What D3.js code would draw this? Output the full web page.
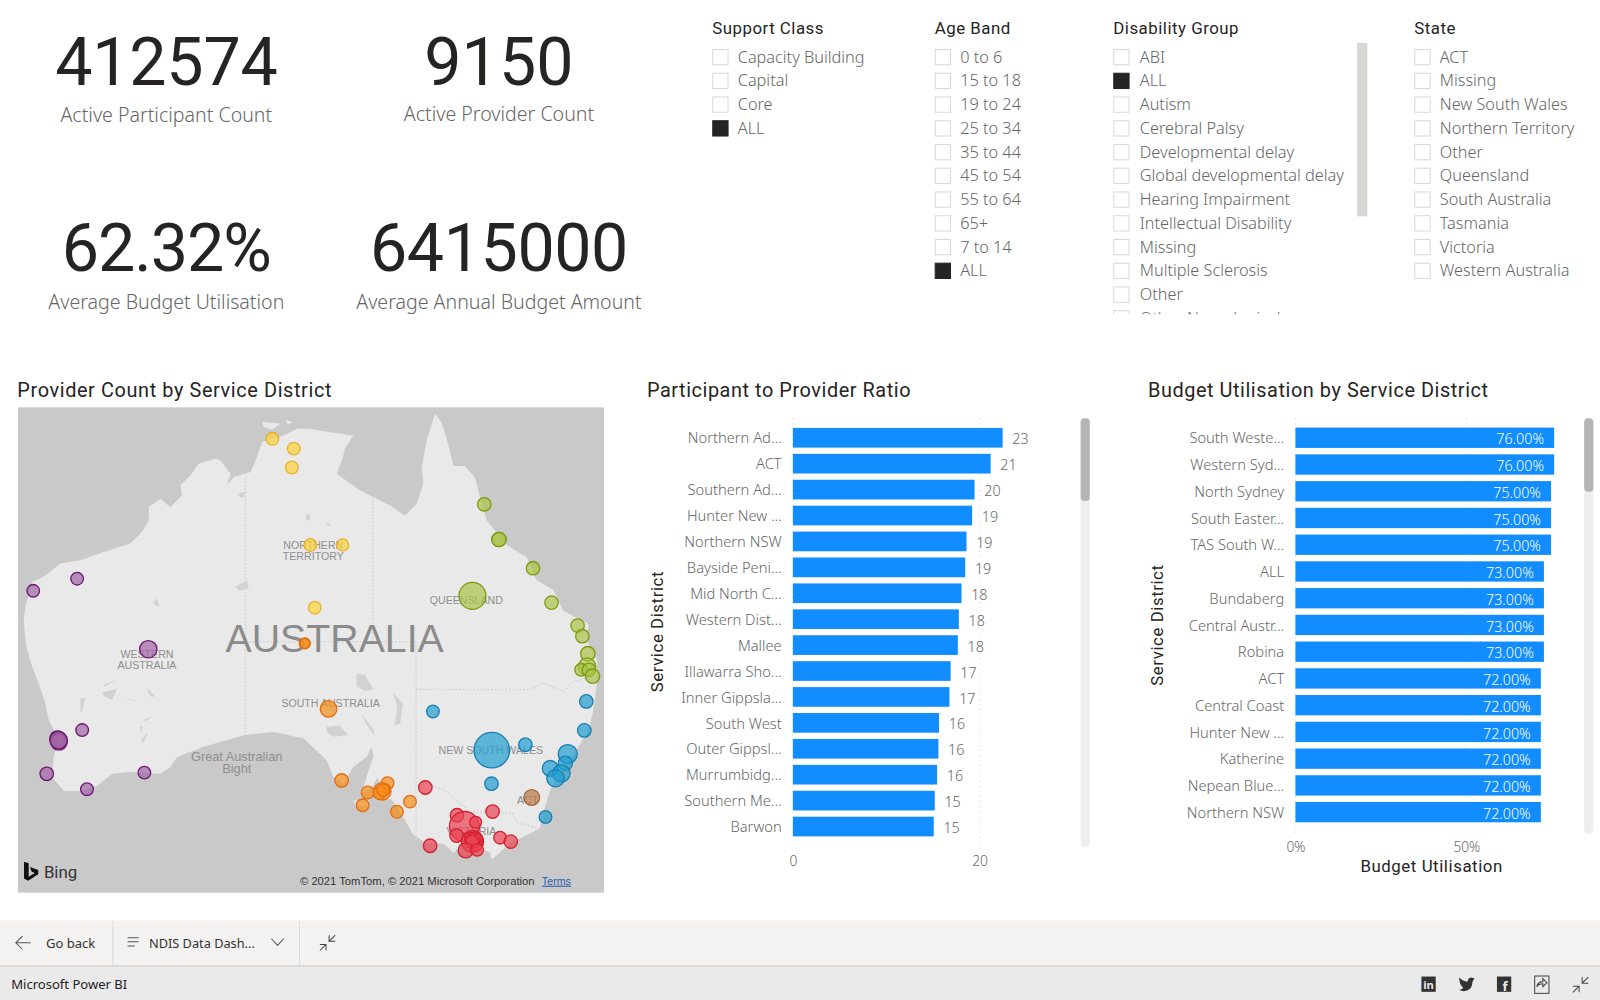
<!DOCTYPE html>
<html><head><meta charset="utf-8">
<script src="https://cdn.jsdelivr.net/npm/d3@7"></script>
<style>
html,body{margin:0;padding:0;background:#fff;overflow:hidden}
svg{display:block}
.din{font-family:Roboto,sans-serif}
.seg{font-family:"Noto Sans",sans-serif}
.map{font-family:"Liberation Sans",sans-serif}
</style></head><body><svg id="c" width="1600" height="1000" viewBox="0 0 1568 980"></svg>
<script>
// ---------- KPI cards
const kpiValues=["412574","9150","62.32%","6415000"];
const kpiLabels=["Active Participant Count","Active Provider Count","Average Budget Utilisation","Average Annual Budget Amount"];
// ---------- slicers
const supportClass=["Capacity Building","Capital","Core","ALL"];
const ageBand=["0 to 6","15 to 18","19 to 24","25 to 34","35 to 44","45 to 54","55 to 64","65+","7 to 14","ALL"];
const disabilityGroup=["ABI","ALL","Autism","Cerebral Palsy","Developmental delay","Global developmental delay","Hearing Impairment","Intellectual Disability","Missing","Multiple Sclerosis","Other","Other Neurological"];
const stateNames=["ACT","Missing","New South Wales","Northern Territory","Other","Queensland","South Australia","Tasmania","Victoria","Western Australia"];
// ---------- participant to provider ratio
const ratioDistricts=["Northern Ad...","ACT","Southern Ad...","Hunter New ...","Northern NSW","Bayside Peni...","Mid North C...","Western Dist...","Mallee","Illawarra Sho...","Inner Gippsla...","South West","Outer Gippsl...","Murrumbidg...","Southern Me...","Barwon"];
const ratioValues=[22.47,21.18,19.46,19.2,18.6,18.46,18.06,17.78,17.67,16.9,16.77,15.66,15.59,15.45,15.2,15.09];
const ratioLabels=["23","21","20","19","19","19","18","18","18","17","17","16","16","16","15","15"];
// ---------- budget utilisation
const budgetDistricts=["South Weste...","Western Syd...","North Sydney","South Easter...","TAS South W...","ALL","Bundaberg","Central Austr...","Robina","ACT","Central Coast","Hunter New ...","Katherine","Nepean Blue...","Northern NSW"];
const budgetValues=[75.7,75.7,74.8,74.8,74.8,72.7,72.7,72.7,72.7,71.8,71.8,71.8,71.8,71.8,71.8];
const budgetLabels=["76.00%","76.00%","75.00%","75.00%","75.00%","73.00%","73.00%","73.00%","73.00%","72.00%","72.00%","72.00%","72.00%","72.00%","72.00%"];
// ---------- provider count by district, [lon, lat, providers]
const ntPoints=[[130.82,-12.52,100],[132.34,-13.2,100],[132.2,-14.5,100],[133.52,-19.76,100],[135.82,-19.76,88],[133.83,-23.9,100]];
const wa=[[113.82,-22.8,100],[116.94,-22.0,100],[122.0,-26.57,189],[117.3,-31.59,100],[115.55,-32.1,150],[115.65,-32.3,170],[115.62,-32.2,189],[114.78,-34.2,114],[121.72,-34.13,100],[117.64,-35.1,100]];
const qld=[[145.88,-17.02,114],[146.92,-19.4,128],[146.92,-19.4,128],[149.34,-21.31,114],[145.04,-23.13,455],[150.66,-23.57,114],[152.51,-25.06,114],[152.85,-25.74,114],[153.24,-26.85,128],[153.19,-27.67,189],[152.76,-27.87,100],[153.32,-27.87,114],[153.58,-28.27,128]];
const nsw=[[142.23,-30.46,100],[153.13,-29.84,114],[152.99,-31.61,114],[146.41,-32.8,790],[148.8,-32.47,114],[151.81,-33.03,226],[151.64,-33.58,128],[150.57,-33.88,157],[151.36,-34.17,189],[150.94,-34.46,189],[146.39,-34.78,114],[150.23,-36.7,100]];
const act=[[149.25,-35.58,157]];
const sa=[[133.12,-26.2,76],[133.12,-26.2,60],[134.81,-30.3,171],[135.74,-34.59,114],[137.59,-35.29,100],[139.0,-34.75,100],[138.63,-35.23,189],[138.86,-35.1,60],[138.43,-35.33,100],[138.7,-35.15,100],[137.23,-36.03,100],[140.6,-35.82,100],[139.67,-36.4,100]];
const vic=[[141.69,-35.0,114],[146.47,-36.39,114],[143.94,-36.6,114],[144.47,-37.24,565],[145.26,-37.0,88],[143.91,-37.75,114],[145.04,-38.08,307],[145.18,-37.99,157],[144.9,-37.9,88],[145.32,-38.27,88],[145.1,-38.0,120],[145.0,-38.1,110],[144.56,-38.58,143],[145.37,-38.55,100],[142.03,-38.32,114],[147.0,-37.87,100],[147.76,-38.09,114]];
// ---------- base map geography, [lon, lat]
const coast=[[142.38,-10.8],[141.78,-12.63],[141.43,-14.5],[141.55,-15.6],[141.07,-17],[140.24,-17.78],[139.18,-17.1],[137.04,-16.07],[135.39,-14.93],[135.86,-13.7],[135.98,-13.2],[136.57,-12.3],[134.91,-12.07],[133.49,-11.83],[132.6,-11.8],[131.63,-12.3],[130.09,-12.75],[129.54,-14.24],[129.26,-14.81],[128.07,-15.16],[127.6,-15.73],[127.84,-14.93],[127.12,-14],[126.77,-13.9],[125.58,-14.24],[124.99,-15.04],[124.28,-15.73],[124.4,-16.42],[123.57,-17.22],[122.86,-16.65],[122.03,-17.22],[122.03,-18.11],[121.56,-18.89],[120.73,-19.67],[118.83,-20.23],[117.17,-20.78],[115.75,-21],[114.57,-21.88],[113.74,-22.2],[113.26,-23.9],[113.14,-24.7],[113.3,-26.3],[113.74,-27.67],[114.2,-28.7],[114.68,-29.95],[114.92,-30.97],[115.63,-32.2],[115.28,-33.2],[115.16,-34.4],[116,-35.2],[117.17,-35.2],[118.36,-34.9],[119.42,-34.2],[120.73,-34.1],[122.86,-34.2],[123.57,-33.8],[124.04,-33.2],[125.94,-32.6],[128.78,-31.9],[130.92,-31.7],[133.05,-32.1],[134.67,-33.4],[135.15,-34.4],[135.86,-34.8],[136.57,-33.8],[137.52,-33.2],[137.87,-32.6],[137.99,-33.2],[137.52,-34.35],[137.2,-35.3],[137.9,-35],[138.3,-34.4],[138.5,-35],[138.2,-35.6],[139.3,-35.7],[139.89,-36.4],[140.84,-37.7],[141.78,-38.2],[142.97,-38.2],[143.68,-38.7],[144.8,-38.1],[145.2,-38.3],[146.29,-38.7],[146.4,-39.1],[147.7,-38.2],[149.84,-37.35],[150.08,-36.4],[150.55,-35.2],[151.02,-34.3],[152.2,-33.1],[153.28,-31.6],[153.63,-30.4],[153.87,-28.8],[153.9,-27.3],[153.16,-26],[153.28,-24.95],[151.5,-24.1],[150.79,-22.75],[149.6,-22.1],[148.9,-20.6],[147.47,-19.76],[146.05,-18.1],[145.58,-16.55],[145.22,-15.2],[144.5,-14.4],[143.68,-14.4],[143.32,-12.9],[142.85,-11.4]];
const islands=[[[130.09,-11.35],[131.39,-11.45],[130.8,-11.9],[130.2,-11.7]],[[131.75,-11.2],[132.3,-11.4],[131.9,-11.5]],[[136.6,-35.75],[137.7,-35.7],[137.6,-36.1],[136.7,-36.05]]];
const ocean=[[[136.3,-13.8],[136.8,-13.9],[136.6,-14.4]]];
const lakes=[[[136.8,-28.1],[137.4,-28.2],[138,-29.1],[137.4,-29.2],[136.8,-28.9]],[[139.4,-29.3],[140.1,-30],[139.9,-31.2],[139.5,-31.3],[139.7,-30.2]],[[137.16,-30.6],[138,-31.6],[138.1,-32],[137.4,-31.1]],[[134.67,-31.4],[135.6,-31.3],[136.2,-31.9],[135.1,-32],[134.67,-31.7]],
[[118.78,-28.81],[119.78,-28.5],[118.88,-28.91]],[[118.71,-29.28],[119.78,-29.07],[119.42,-29.74],[118.88,-29.53]],[[120.25,-29.57],[121.44,-29.84],[120.73,-29.73]],[[121.91,-29.01],[122.5,-29.53],[122.15,-29.53]],[[117.17,-29.63],[117.53,-29.63],[117.29,-30.46],[117.17,-30.46]],[[121.67,-30.97],[122.27,-30.76],[121.79,-31.07]],[[121.39,-31.41],[121.63,-31.33],[121.49,-31.67]],[[121.44,-32.17],[121.96,-31.77],[121.67,-32.37]],[[128.31,-16.3],[128.9,-16.19],[128.67,-16.65]],[[128.19,-22.54],[129.02,-22.1],[129.14,-22.65],[128.43,-22.8]],[[122.34,-23.53],[122.62,-23.3],[122.81,-23.85],[122.5,-23.75]],[[133.17,-17.77],[133.52,-17.66],[133.47,-18.1],[133.24,-18.1]],[[134.6,-18.35],[135,-18.3],[134.85,-18.5]]];
const borders=[[[128.9,-15.2],[128.9,-31.9]],[[128.9,-26.1],[141.03,-26.1]],[[137.94,-16.5],[137.94,-26.1]],[[141.03,-26.1],[141.03,-38]],[[141.03,-29.1],[149.13,-29.1],[150.08,-28.7],[151.5,-29.2],[152.2,-28.6],[153.75,-28.3]],[[141.03,-34.4],[142,-34.8],[143.2,-35.25],[144.86,-36.4],[147.9,-36.5],[148.2,-37],[149.96,-37.4]]];

const palette={wa:["#a163a5","#6d1a74"],nt:["#fdd235","#e8b030"],qld:["#aac548","#7f9a12"],nsw:["#209cce","#1a7fb5"],act:["#b97845","#a0693e"],sa:["#f78e18","#e26e13"],vic:["#ea4353","#d3212f"]};

const svg=d3.select("#c");
const textColor="#666";
const darkText="#252423";

function t(sel,x,y,s,cls,size,fill,anchor){
  return sel.append("text").attr("x",x).attr("y",y).text(s).attr("class",cls)
    .attr("font-size",size).attr("fill",fill).attr("text-anchor",anchor||"start");
}
// ---------- KPI
const kpiX=[163,489,163,489], kpiY=[83,83,266,266], kpiLabY=[120,119,303,303], kpiSp=[-.2,.1,-1,-.4];
kpiValues.forEach((v,i)=>{
  t(svg,kpiX[i],kpiY[i],v,"din",65,darkText,"middle").attr("letter-spacing",kpiSp[i]);
  t(svg,kpiX[i],kpiLabY[i],kpiLabels[i],"seg",19.2,textColor,"middle").attr("font-weight",300);
});
// ---------- slicers
const defs=svg.append("defs");
defs.append("clipPath").attr("id","slicerClip").append("rect").attr("x",1080).attr("y",40).attr("width",250).attr("height",268);
defs.append("clipPath").attr("id","mapClip").append("rect").attr("x",17.5).attr("y",399).attr("width",574.5).attr("height",476);
const rowY=d3.scaleLinear().domain([0,1]).range([56,79.27]);
function slicer(title,items,x,labelDx,clip){
  t(svg,x,33.5,title,"din",16.5,darkText).attr("letter-spacing",.5);
  const g=svg.append("g"); if(clip) g.attr("clip-path","url(#slicerClip)");
  items.forEach((d,i)=>{
    const y=rowY(i);
    const on=d==="ALL";
    g.append("rect").attr("x",x+.5).attr("y",y-7.5).attr("width",15).attr("height",15)
      .attr("fill",on?"#252423":"#fff").attr("stroke",on?"#252423":"#d8d8d8");
    t(g,x+labelDx,y+5.5,d,"seg",15.95,textColor).attr("font-weight",300);
  });
}
slicer("Support Class",supportClass,698,25);
slicer("Age Band",ageBand,916,25);
slicer("Disability Group",disabilityGroup,1091,26,true);
slicer("State",stateNames,1386,25);
svg.append("rect").attr("x",1330).attr("y",42).attr("width",10).attr("height",170).attr("fill","#d6d6d4");

// ---------- map
const proj=d3.geoMercator().scale(790).translate([-1536.8,256]);
const lineOf=d3.line().x(p=>proj(p)[0]).y(p=>proj(p)[1]);
const closed=d3.line().x(p=>proj(p)[0]).y(p=>proj(p)[1]).curve(d3.curveLinearClosed);
t(svg,17,389,"Provider Count by Service District","din",19.5,darkText).attr("letter-spacing",.6);
const m=svg.append("g").attr("clip-path","url(#mapClip)");
m.append("rect").attr("x",17).attr("y",399).attr("width",575).attr("height",476).attr("fill","#c9c9c9");
m.append("path").attr("d",closed(coast)).attr("fill","#e9e9e9");
m.selectAll(".isl").data(islands).join("path").attr("d",closed).attr("fill","#e9e9e9");
m.selectAll(".oc").data(ocean).join("path").attr("d",closed).attr("fill","#c9c9c9");
m.selectAll(".lk").data(lakes).join("path").attr("d",closed).attr("fill","#d2d2d2");
m.selectAll(".bd").data(borders).join("path").attr("d",lineOf).attr("fill","none").attr("stroke","#d2d2d2").attr("stroke-width",1.5).attr("stroke-dasharray","1.5 2");
const ml=[["AUSTRALIA",328,639,38.5],["NORTHERN",307,538,10.4],["TERRITORY",307,549,10.4],["QUEENSLAND",457,592,10.4],["WESTERN",144,645,10.4],["AUSTRALIA",144,656,10.4],["SOUTH AUSTRALIA",324,693,10.4],["NEW SOUTH WALES",481,739,10.4],["ACT",517,788,10.4],["VICTORIA",462,818,10.4],["Great Australian",232,746,12.5],["Bight",232,758,12.5]];
ml.forEach(d=>t(m,d[1],d[2],d[0],"map",d[3],d[3]>20?"#8b8b8b":"#8e8e8e","middle"));
const r=d3.scaleSqrt().domain([0,800]).range([0,17.5]);
[[wa,"wa"],[ntPoints,"nt"],[qld,"qld"],[nsw,"nsw"],[act,"act"],[sa,"sa"],[vic,"vic"]].forEach(([pts,k])=>{
  m.append("g").selectAll("circle").data(pts).join("circle")
    .attr("cx",d=>proj(d)[0]).attr("cy",d=>proj(d)[1]).attr("r",d=>r(d[2]))
    .attr("fill",palette[k][0]).attr("fill-opacity",.7).attr("stroke",palette[k][1]).attr("stroke-width",1.3);
});
// bing logo + credit
m.append("path").attr("d","M23.5 844.5 l4.6 1.6 v13 l6 -3.5 l-3 -1.4 l-1.8 -4.6 l8.2 3 v4.2 l-10 6.4 l-4 -2.2 z").attr("fill","#111");
t(m,43,860.6,"Bing","din",16.5,"#333");
t(m,294,867,"© 2021 TomTom, © 2021 Microsoft Corporation","map",11,"#333");
t(m,531,867,"Terms","map",10.5,"#2a5db0").attr("text-decoration","underline");

// ---------- bar charts
function barChart(o){
  const x=d3.scaleLinear().domain([0,o.tick]).range([o.x0,o.x1]);
  const y=d3.scaleBand().domain(o.cats).range(o.yr).paddingInner(.24).paddingOuter(.12);
  t(svg,o.titleX,389,o.title,"din",19.5,darkText).attr("letter-spacing",.55);
  // grid
  svg.append("g").selectAll("line").data([0,o.tick]).join("line")
    .attr("x1",d=>x(d)).attr("x2",d=>x(d)).attr("y1",o.gridTop).attr("y2",o.gridBot)
    .attr("stroke","#d8d8d8").attr("stroke-dasharray","1 4");
  // x axis
  const ax=svg.append("g").attr("transform",`translate(0,${o.axisY})`).call(d3.axisBottom(x).tickValues([0,o.tick]).tickSize(0).tickFormat(o.fmt));
  ax.select(".domain").remove();
  ax.selectAll("text").attr("class","seg").attr("font-size",13.5).attr("fill",textColor).attr("dy",0).attr("y",0).attr("font-family",null).attr("font-weight",300);
  // y axis
  const ay=svg.append("g").attr("transform",`translate(${o.x0-11},1)`).call(d3.axisLeft(y).tickSize(0).tickPadding(0));
  ay.select(".domain").remove();
  ay.selectAll("text").attr("class","seg").attr("font-size",14.4).attr("fill",textColor).attr("font-family",null).attr("font-weight",300);
  // bars
  svg.append("g").selectAll("rect").data(o.cats).join("rect")
    .attr("x",x(0)).attr("y",d=>y(d)).attr("height",y.bandwidth())
    .attr("width",(d,i)=>x(o.vals[i])-x(0)).attr("fill","#118dff");
  // labels
  svg.append("g").selectAll("text").data(o.cats).join("text")
    .attr("x",(d,i)=>x(o.vals[i])+o.labDx).attr("y",d=>y(d)+y.bandwidth()/2+6.5)
    .attr("text-anchor",o.labAnchor).attr("class","seg").attr("font-size",14).attr("font-weight",300)
    .attr("fill",o.labFill).text((d,i)=>o.labels[i]);
  // axis titles
  svg.append("text").attr("transform",`translate(${o.ytX},${o.ytY}) rotate(-90)`).attr("text-anchor","middle")
    .attr("class","din").attr("font-size",16.5).attr("letter-spacing",.55).attr("fill",darkText).text("Service District");
  // scrollbar
  svg.append("rect").attr("x",o.sbX).attr("y",410).attr("width",9).attr("height",o.sbH).attr("rx",4).attr("fill","#eeeeee");
  svg.append("rect").attr("x",o.sbX).attr("y",410).attr("width",9).attr("height",o.thumb).attr("rx",4).attr("fill","#b4b4b4");
}
barChart({title:"Participant to Provider Ratio",titleX:634,cats:ratioDistricts,vals:ratioValues,labels:ratioLabels,tick:20,x0:777,x1:960,yr:[416.3,822.7],gridTop:410,gridBot:830,axisY:849,fmt:d=>d,labDx:9.5,labAnchor:"start",labFill:textColor,ytX:650,ytY:619,sbX:1059,sbH:420,thumb:81});
barChart({title:"Budget Utilisation by Service District",titleX:1125,cats:budgetDistricts,vals:budgetValues,labels:budgetLabels,tick:50,x0:1269.5,x1:1437,yr:[415.9,809],gridTop:410,gridBot:817,axisY:835,fmt:d=>d+"%",labDx:-10,labAnchor:"end",labFill:"#fff",ytX:1140,ytY:612.6,sbX:1552.5,sbH:407,thumb:72});
t(svg,1403,855,"Budget Utilisation","din",16.5,darkText,"middle").attr("letter-spacing",.55);

// ---------- footer
svg.append("rect").attr("x",0).attr("y",902).attr("width",1568).attr("height",44).attr("fill","#f3f2f1");
svg.append("rect").attr("x",0).attr("y",946).attr("width",1568).attr("height",1.5).attr("fill","#d0d0d0");
svg.append("rect").attr("x",0).attr("y",947.5).attr("width",1568).attr("height",33).attr("fill","#eaeaea");
[110,293].forEach(x=>svg.append("rect").attr("x",x).attr("y",902).attr("width",1).attr("height",44).attr("fill","#dcdcdc"));
svg.append("path").attr("d","M30 924 H16 M22 917.5 L15.5 924 L22 930.5").attr("fill","none").attr("stroke","#555");
t(svg,45,929,"Go back","seg",12.8,"#333");
svg.append("path").attr("d","M125 919 H136 M125 923 H136 M125 927 H132").attr("fill","none").attr("stroke","#555");
t(svg,146,929,"NDIS Data Dash...","seg",12.5,"#333");
svg.append("path").attr("d","M266 920 L272 926.5 L278 920").attr("fill","none").attr("stroke","#555");
function collapseIcon(cx,cy){
  svg.append("path").attr("transform",`translate(${cx},${cy})`).attr("d","M1.5 -7.5 V-1.5 H7.5 M1.5 -1.5 L7.5 -7.5 M-1.5 7.5 V1.5 H-7.5 M-1.5 1.5 L-7.5 7.5").attr("fill","none").attr("stroke","#444");
}
collapseIcon(321,924);
t(svg,11,969,"Microsoft Power BI","seg",12.8,"#222");
// share icons
const iconX=[1400,1437,1474,1511];
svg.append("rect").attr("x",iconX[0]-7).attr("y",957).attr("width",14).attr("height",15).attr("fill","#333");
t(svg,iconX[0],969,"in","seg",11,"#eaeaea","middle").attr("font-weight",700);
svg.append("path").attr("d","M1430 958 q4 4 8 4 q1 -4 4 -4 l3 1 l-2 3 q0 7 -6 9 q-4 1 -7 -1 q3 0 4 -2 q-4 -3 -4 -10z").attr("fill","#333");
svg.append("rect").attr("x",iconX[2]-7).attr("y",957).attr("width",14).attr("height",15).attr("fill","#333");
t(svg,iconX[2]+1,971,"f","seg",13,"#eaeaea","middle").attr("font-weight",700);
svg.append("rect").attr("x",iconX[3]-7).attr("y",956.5).attr("width",14).attr("height",17).attr("fill","none").attr("stroke","#444");
svg.append("path").attr("d","M1506 967 q1 -5 6 -5 v-3 l4 4 l-4 4 v-3 q-4 0 -6 3z").attr("fill","none").attr("stroke","#444");
collapseIcon(1549,965);
</script></body></html>
